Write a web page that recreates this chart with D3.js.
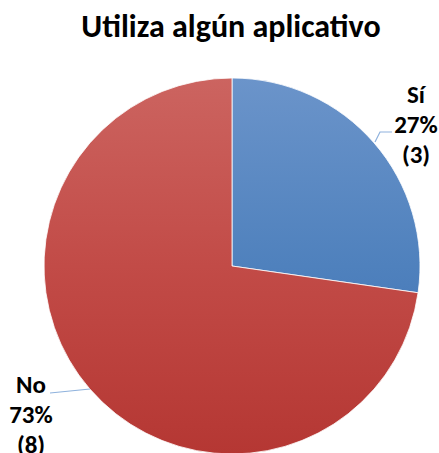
<!DOCTYPE html>
<html>
<head>
<meta charset="utf-8">
<script src="https://cdn.jsdelivr.net/npm/d3@7"></script>
<style>
  body { margin: 0; background: #fff; }
  svg { display: block; font-family: Carlito, "Open Sans", "Liberation Sans", sans-serif; }
</style>
</head>
<body>
<div class="chart"></div>
<script>
var width = 439, height = 453;
var title = 'Utiliza algún aplicativo';
var categories = ['Sí', 'No'];
var counts = [3, 8];
var percents = ['27%', '73%'];
var colorsTop = ['#6b94ca', '#cc6460'];
var colorsMid = ['#4f81bd', '#c24b47'];
var colorsBottom = ['#3a6cb1', '#b53733'];

var cx = 232, cy = 266, r = 188;

var svg = d3.select('.chart').append('svg')
  .attr('width', width)
  .attr('height', height);

// gradients run top to bottom across the whole pie (local coords of the pie group)
var defs = svg.append('defs');
categories.forEach(function(c, i){
  var g = defs.append('linearGradient')
    .attr('id', 'grad' + i)
    .attr('gradientUnits', 'userSpaceOnUse')
    .attr('x1', 0).attr('y1', -r)
    .attr('x2', 0).attr('y2', r);
  g.append('stop').attr('offset', '0%').attr('stop-color', colorsTop[i]);
  g.append('stop').attr('offset', '50%').attr('stop-color', colorsMid[i]);
  g.append('stop').attr('offset', '100%').attr('stop-color', colorsBottom[i]);
});

svg.append('text')
  .attr('x', 231)
  .attr('y', 37)
  .attr('text-anchor', 'middle')
  .style('font-size', '32px')
  .style('font-weight', 'bold')
  .text(title);

var pie = d3.pie().sort(null).value(function(d){ return d; });
var arcs = pie(counts);
var arc = d3.arc().innerRadius(0).outerRadius(r);

var g = svg.append('g').attr('transform', 'translate(' + cx + ',' + cy + ')');

g.selectAll('path')
  .data(arcs)
  .enter()
  .append('path')
  .attr('d', arc)
  .attr('fill', function(d, i){ return 'url(#grad' + i + ')' })
  .attr('stroke', '#fff')
  .attr('stroke-width', 0.8);

// leader lines
var leaders = [
  [[375, 142], [380, 132], [392, 132]],
  [[90, 389], [70, 391], [50, 393]]
];
svg.selectAll('polyline')
  .data(leaders)
  .enter()
  .append('polyline')
  .attr('points', function(d){ return d.map(function(p){ return p.join(',') }).join(' ') })
  .attr('fill', 'none')
  .attr('stroke', '#8fb2dd')
  .attr('stroke-width', 1.2);

var labelPos = [[416, 103], [31, 393]];
var labels = svg.selectAll('.lbl')
  .data(categories)
  .enter()
  .append('text')
  .attr('class', 'lbl')
  .attr('text-anchor', 'middle')
  .style('font-size', '25px')
  .style('font-weight', 'bold')
  .attr('x', function(d, i){ return labelPos[i][0] })
  .attr('y', function(d, i){ return labelPos[i][1] });

labels.each(function(d, i){
  var t = d3.select(this);
  var lines = [d, percents[i], '(' + counts[i] + ')'];
  lines.forEach(function(l, j){
    t.append('tspan')
      .attr('x', labelPos[i][0])
      .attr('dy', j === 0 ? 0 : 30)
      .text(l);
  });
});
</script>
</body>
</html>
